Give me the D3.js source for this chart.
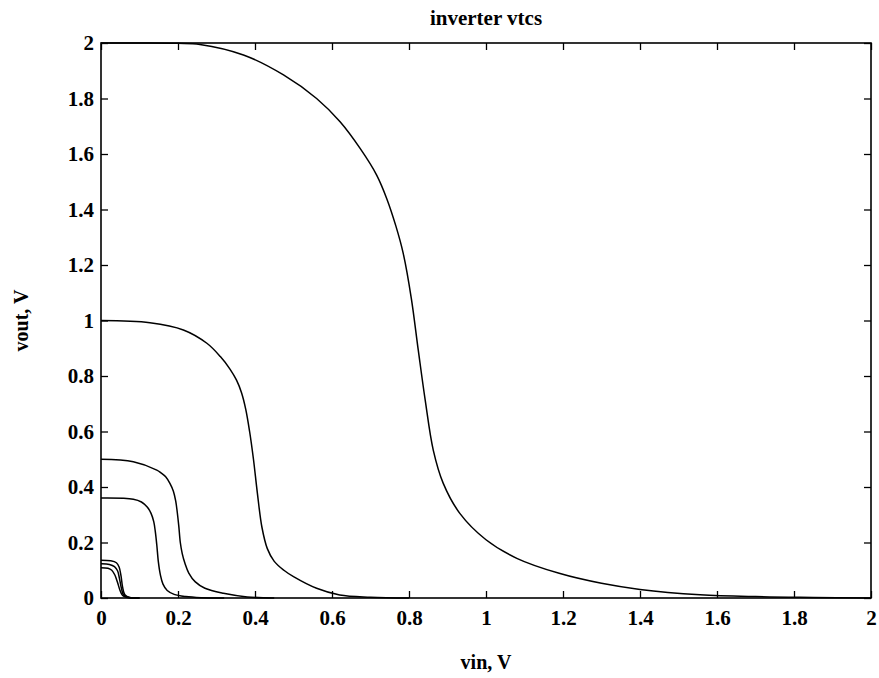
<!DOCTYPE html>
<html>
<head>
<meta charset="utf-8">
<script src="https://cdn.jsdelivr.net/npm/d3@7"></script>
<style>
  body { margin: 0; background: #fff; }
  text { font-family: "Liberation Serif", "Times New Roman", serif; font-weight: bold; fill: #000; }
</style>
</head>
<body>
<svg id="chart"></svg>
<script>
// vin / vout samples for each supply voltage
var vdd2X = [0, 0.1, 0.2, 0.257, 0.37, 0.474, 0.56, 0.621, 0.673, 0.716, 0.742, 0.766, 0.785, 0.806, 0.824, 0.842, 0.863, 0.889, 0.932, 1.0, 1.08, 1.19, 1.3, 1.4, 1.556, 1.7, 1.85, 2.0];
var vdd2Y = [2, 2, 1.999, 1.995, 1.957, 1.885, 1.80, 1.716, 1.62, 1.524, 1.44, 1.34, 1.242, 1.08, 0.894, 0.714, 0.533, 0.413, 0.305, 0.21, 0.143, 0.089, 0.053, 0.031, 0.012, 0.005, 0.002, 0];

var vdd1X = [0, 0.127, 0.214, 0.275, 0.31, 0.335, 0.352, 0.365, 0.376, 0.386, 0.396, 0.406, 0.418, 0.432, 0.45, 0.475, 0.5, 0.56, 0.62, 0.7, 0.8];
var vdd1Y = [1, 0.992, 0.966, 0.918, 0.87, 0.825, 0.785, 0.74, 0.68, 0.6, 0.5, 0.38, 0.255, 0.178, 0.132, 0.1, 0.077, 0.035, 0.011, 0.003, 0];

var vdd05X = [0, 0.084, 0.145, 0.155, 0.168, 0.179, 0.188, 0.194, 0.198, 0.202, 0.206, 0.211, 0.218, 0.228, 0.245, 0.27, 0.318, 0.38, 0.45];
var vdd05Y = [0.5, 0.491, 0.461, 0.452, 0.437, 0.413, 0.385, 0.35, 0.31, 0.26, 0.2, 0.16, 0.125, 0.09, 0.058, 0.035, 0.017, 0.004, 0];

var vdd036X = [0, 0.084, 0.105, 0.12, 0.13, 0.137, 0.141, 0.145, 0.149, 0.154, 0.161, 0.172, 0.19, 0.22, 0.26, 0.32];
var vdd036Y = [0.36, 0.356, 0.346, 0.328, 0.305, 0.275, 0.24, 0.19, 0.13, 0.085, 0.05, 0.027, 0.013, 0.005, 0.001, 0];

var vdd014X = [0, 0.025, 0.04, 0.047, 0.052, 0.056, 0.062, 0.075, 0.1];
var vdd014Y = [0.136, 0.134, 0.127, 0.112, 0.08, 0.04, 0.012, 0.002, 0];

var vdd012X = [0, 0.022, 0.035, 0.043, 0.048, 0.053, 0.059, 0.072, 0.1];
var vdd012Y = [0.123, 0.121, 0.113, 0.098, 0.07, 0.035, 0.01, 0.002, 0];

var vdd011X = [0, 0.018, 0.028, 0.036, 0.043, 0.049, 0.056, 0.068, 0.1];
var vdd011Y = [0.109, 0.107, 0.1, 0.083, 0.056, 0.029, 0.009, 0.002, 0];

var xTicks = [0, 0.2, 0.4, 0.6, 0.8, 1, 1.2, 1.4, 1.6, 1.8, 2];
var yTicks = [0, 0.2, 0.4, 0.6, 0.8, 1, 1.2, 1.4, 1.6, 1.8, 2];

var curves = [
  [vdd2X, vdd2Y], [vdd1X, vdd1Y], [vdd05X, vdd05Y], [vdd036X, vdd036Y],
  [vdd014X, vdd014Y], [vdd012X, vdd012Y], [vdd011X, vdd011Y]
];

// set the dimensions and margins of the graph
var margin = {top: 43, right: 8, bottom: 80, left: 101},
    W = 879, H = 678,
    width = W - margin.left - margin.right,
    height = H - margin.top - margin.bottom;

var svg = d3.select("#chart")
    .attr("width", W)
    .attr("height", H)
  .append("g")
    .attr("transform", "translate(" + margin.left + "," + margin.top + ")");

var x = d3.scaleLinear().domain([0, 2]).range([0, width]);
var y = d3.scaleLinear().domain([0, 2]).range([height, 0]);

var fmt = function(d) { return String(+d.toFixed(1)); };

// axes, ticks pointing inward on all four sides
svg.append("g")
    .attr("transform", "translate(0," + height + ")")
    .call(d3.axisBottom(x).tickValues(xTicks).tickFormat(fmt).tickSize(-7).tickSizeOuter(0).tickPadding(12));
svg.append("g")
    .call(d3.axisLeft(y).tickValues(yTicks).tickFormat(fmt).tickSize(-7).tickSizeOuter(0).tickPadding(7));
svg.append("g")
    .call(d3.axisTop(x).tickValues(xTicks).tickFormat("").tickSize(-7).tickSizeOuter(0));
svg.append("g")
    .attr("transform", "translate(" + width + ",0)")
    .call(d3.axisRight(y).tickValues(yTicks).tickFormat("").tickSize(-7).tickSizeOuter(0));

svg.selectAll(".tick line").attr("stroke", "#000").attr("stroke-width", 1.3);
svg.selectAll(".domain").remove();
svg.selectAll(".tick text")
    .style("font-family", '"Liberation Serif", serif')
    .style("font-weight", "bold")
    .style("font-size", "21px");

// frame
svg.append("rect")
    .attr("width", width)
    .attr("height", height)
    .attr("fill", "none")
    .attr("stroke", "#000")
    .attr("stroke-width", 1.6);

// curves
var line = d3.line()
    .x(function(d) { return x(d[0]); })
    .y(function(d) { return y(d[1]); })
    .curve(d3.curveCatmullRom.alpha(0.5));

svg.append("g")
  .selectAll("path")
  .data(curves.map(function(c) { return d3.zip(c[0], c[1]); }))
  .enter()
  .append("path")
    .attr("d", line)
    .attr("fill", "none")
    .attr("stroke", "#000")
    .attr("stroke-width", 1.5);

// labels
svg.append("text")
    .attr("x", width / 2)
    .attr("y", -18)
    .attr("text-anchor", "middle")
    .style("font-size", "21px")
    .text("inverter vtcs");

svg.append("text")
    .attr("x", width / 2)
    .attr("y", height + 71)
    .attr("text-anchor", "middle")
    .style("font-size", "20px")
    .text("vin, V");

svg.append("text")
    .attr("transform", "translate(" + (28 - margin.left) + "," + (height / 2) + ") rotate(-90)")
    .attr("text-anchor", "middle")
    .style("font-size", "20px")
    .text("vout, V");
</script>
</body>
</html>
